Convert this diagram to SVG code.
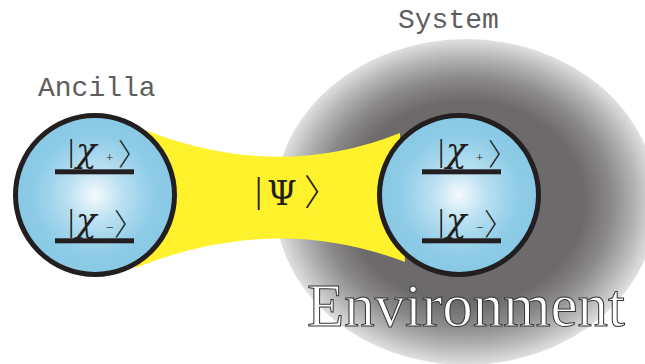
<svg xmlns="http://www.w3.org/2000/svg" width="645" height="364" viewBox="0 0 645 364">
<defs>
<radialGradient id="envG" cx="0.5" cy="0.5" r="0.5">
<stop offset="0" stop-color="#6c6a6b"/>
<stop offset="0.62" stop-color="#6c6a6b"/>
<stop offset="0.76" stop-color="#8a8889"/>
<stop offset="0.89" stop-color="#b6b5b5"/>
<stop offset="1" stop-color="#e0e0e0"/>
</radialGradient>
<radialGradient id="blueG" cx="0.5" cy="0.5" r="0.5">
<stop offset="0" stop-color="#f4fafd"/>
<stop offset="0.35" stop-color="#b9e0f1"/>
<stop offset="0.75" stop-color="#8ecce7"/>
<stop offset="1" stop-color="#89c9e5"/>
</radialGradient>
</defs>
<style>
.lbl{font-family:"Liberation Mono","DejaVu Sans Mono",monospace;font-size:28px;fill:#5e5e5e}
.circ{fill:url(#blueG);stroke:#231f20;stroke-width:5}
.bar{fill:#231f20}
.k{font-family:"Liberation Serif","DejaVu Serif",serif;fill:#231f20}
.kb{font-size:32px}
.kc{font-family:"DejaVu Serif",serif;font-size:34px;font-style:italic}
.ks{font-size:13px}
.ka{font-family:"Noto Sans CJK JP","Noto Sans CJK SC",sans-serif;font-weight:300;font-size:30px;fill:#231f20}
.env{font-family:"Liberation Serif","Times New Roman",serif;font-size:61px;fill:#fff;stroke:#333;stroke-width:1}
</style>
<g id="environment">
<ellipse cx="466" cy="202" rx="191" ry="163" fill="url(#envG)"/>
</g>
<g id="connectors">
<path d="M140,128 Q275,183 400,133 L405,262 Q275,212 135,268 Z" fill="#fff12b"/>
<g id="psi-label">
<text class="k" x="255" y="202" style="font-size:36px">|</text>
<text class="k" x="267" y="205" style="font-family:'DejaVu Serif',serif;font-size:34px">Ψ</text>
<text class="ka" x="304" y="206" style="font-size:36px">〉</text>
</g>
</g>
<g id="ancilla">
<text class="lbl" x="38" y="96">Ancilla</text>
<circle class="circ" cx="95" cy="195" r="79.5"/>
<rect class="bar" x="55" y="169.3" width="79" height="5"/>
<rect class="bar" x="55" y="238.3" width="79" height="5"/>
<text class="k kb" x="68" y="161">|</text>
<text class="k kc" x="76" y="162">χ</text>
<text class="k ks" x="106" y="162">+</text>
<text class="ka" x="118" y="165">〉</text>
<text class="k kb" x="68" y="231">|</text>
<text class="k kc" x="76" y="232">χ</text>
<text class="k ks" x="106" y="232">−</text>
<text class="ka" x="114" y="235">〉</text>
</g>
<g id="system">
<text class="lbl" x="398" y="28">System</text>
<circle class="circ" cx="459" cy="195" r="79.5"/>
<rect class="bar" x="422" y="169.3" width="79" height="5"/>
<rect class="bar" x="422" y="238.3" width="79" height="5"/>
<text class="k kb" x="438" y="161">|</text>
<text class="k kc" x="446" y="162">χ</text>
<text class="k ks" x="476" y="162">+</text>
<text class="ka" x="488" y="165">〉</text>
<text class="k kb" x="438" y="231">|</text>
<text class="k kc" x="446" y="232">χ</text>
<text class="k ks" x="476" y="232">−</text>
<text class="ka" x="484" y="235">〉</text>
</g>
<g id="env-label">
<text class="env" x="307" y="326" textLength="318" lengthAdjust="spacingAndGlyphs">Environment</text>
</g>
</svg>
